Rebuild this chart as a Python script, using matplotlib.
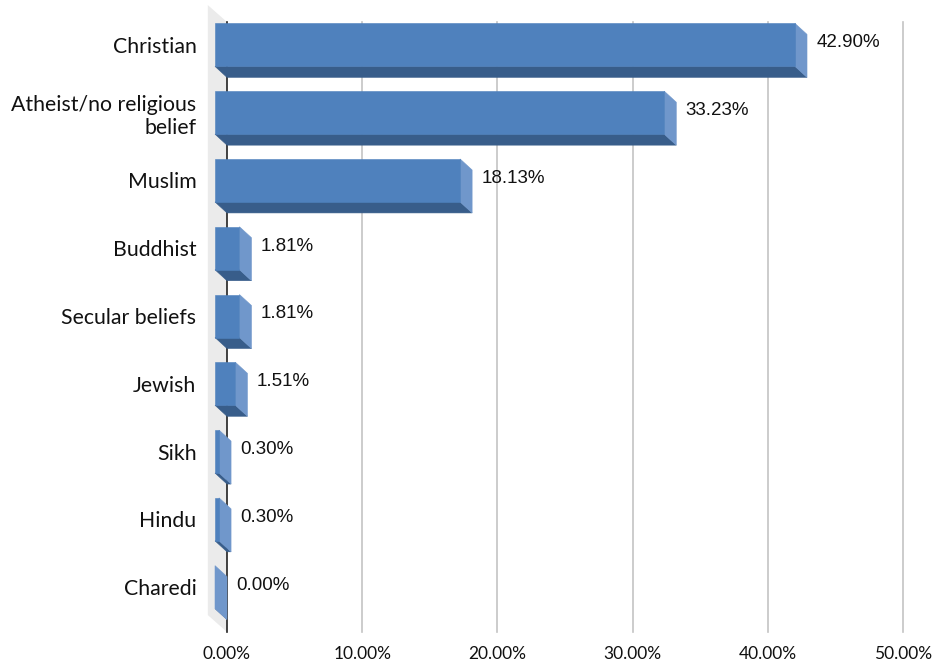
import matplotlib.pyplot as plt
from matplotlib.patches import Polygon

## data
categories = ["Christian", "Atheist/no religious\nbelief", "Muslim", "Buddhist",
              "Secular beliefs", "Jewish", "Sikh", "Hindu", "Charedi"]
values = [42.90, 33.23, 18.13, 1.81, 1.81, 1.51, 0.30, 0.30, 0.00]
xticks = [0, 10, 20, 30, 40, 50]

## style
FRONT = "#4F81BD"
BOTTOM = "#385D8A"
SIDE = "#7097CB"
WALL = "#EBEBEB"
GRID = "#C4C4C4"
DX, DY = 0.887, 0.162      # bar depth (x in %, y in category units)
WDX, WDY = 1.42, 0.25      # wall depth
HALF = 0.317               # half bar height

W, H = 937, 665
fig = plt.figure(figsize=(W / 100, H / 100), dpi=100)
ax = fig.add_axes([227 / W, (H - 632) / H, 676 / W, 610 / H])
ax.set_xlim(0, 50)
ax.set_ylim(len(categories) - 0.5, -0.5)
for s in ax.spines.values():
    s.set_visible(False)

# left wall
n = len(categories)
wall = Polygon([(0, -0.5), (0, n - 0.5), (-WDX, n - 0.5 - WDY), (-WDX, -0.5 - WDY)],
               closed=True, facecolor=WALL, edgecolor="none", clip_on=False, zorder=1)
ax.add_patch(wall)

# gridlines on back wall
for t in xticks[1:]:
    ax.plot([t, t], [-0.5, n - 0.5], color=GRID, lw=1.2, zorder=1, clip_on=False)
ax.plot([0, 0], [-0.5, n - 0.5], color="#222222", lw=1.2, zorder=2, clip_on=False)

# 3d bars
for i, v in enumerate(values):
    x0 = -DX
    x1 = v - DX
    yt = i - DY - HALF
    yb = i - DY + HALF
    front = Polygon([(x0, yt), (x1, yt), (x1, yb), (x0, yb)], closed=True,
                    facecolor=FRONT, edgecolor=FRONT, lw=0.4, clip_on=False, zorder=5)
    bottom = Polygon([(x0, yb), (x1, yb), (x1 + DX, yb + DY), (x0 + DX, yb + DY)],
                     closed=True, facecolor=BOTTOM, edgecolor=BOTTOM, lw=0.4,
                     clip_on=False, zorder=4)
    side = Polygon([(x1, yt), (x1 + DX, yt + DY), (x1 + DX, yb + DY), (x1, yb)],
                   closed=True, facecolor=SIDE, edgecolor=SIDE, lw=0.4,
                   clip_on=False, zorder=4)
    ax.add_patch(bottom)
    ax.add_patch(side)
    if v > 0:
        ax.add_patch(front)
    ax.text(v + 0.68, i - DY - 0.03, "%.2f%%" % v, ha="left", va="center",
            fontsize=13.5, family="Liberation Sans", color="#111111")

ax.set_xticks(xticks)
ax.set_xticklabels(["%.2f%%" % t for t in xticks], fontsize=12.5, family="Lato")
ax.set_yticks([i - DY for i in range(n)])
ax.set_yticklabels(categories, fontsize=15.3, family="Lato")
ax.tick_params(axis="x", length=0, pad=10, colors="#111111")
ax.tick_params(axis="y", length=0, pad=22, colors="#111111")

fig.savefig("out.png", dpi=100)
